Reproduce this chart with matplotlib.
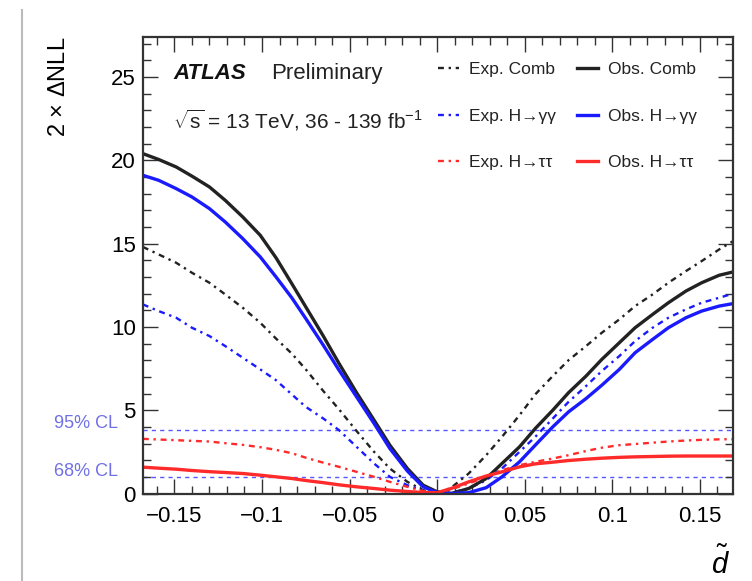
import matplotlib
matplotlib.use("Agg")
import matplotlib.pyplot as plt
from matplotlib.ticker import MultipleLocator
from matplotlib.lines import Line2D

plt.rcParams['font.family'] = ['Liberation Sans', 'DejaVu Sans']
plt.rcParams['mathtext.fontset'] = 'custom'
plt.rcParams['mathtext.rm'] = 'Liberation Sans'
plt.rcParams['mathtext.it'] = 'Liberation Sans:italic'

# ---- data ----
d_tilde = [-0.168, -0.159, -0.149, -0.140, -0.130, -0.121, -0.111, -0.101, -0.092,
           -0.083, -0.075, -0.065, -0.056, -0.046, -0.036, -0.027, -0.017, -0.008,
           0.0, 0.008, 0.018, 0.028, 0.037, 0.047, 0.056, 0.066, 0.075, 0.085,
           0.094, 0.104, 0.113, 0.123, 0.132, 0.142, 0.151, 0.161, 0.169]
obs_comb = [20.4, 20.05, 19.6, 19.05, 18.4, 17.6, 16.6, 15.5, 14.15,
            12.6, 11.2, 9.45, 7.8, 6.05, 4.4, 2.9, 1.5, 0.5,
            0.1, 0.0, 0.3, 0.9, 1.8, 2.8, 3.9, 5.0, 6.05, 7.05,
            8.05, 9.05, 9.95, 10.75, 11.45, 12.15, 12.65, 13.1, 13.3]
obs_gg = [19.1, 18.8, 18.3, 17.8, 17.1, 16.3, 15.3, 14.2, 13.0,
          11.75, 10.5, 8.9, 7.4, 5.8, 4.2, 2.7, 1.35, 0.4,
          0.05, 0.0, 0.05, 0.35, 1.0, 1.9, 2.9, 4.0, 4.9, 5.7,
          6.5, 7.45, 8.45, 9.25, 9.95, 10.55, 10.95, 11.25, 11.4]
exp_comb = [14.8, 14.35, 13.85, 13.25, 12.65, 11.95, 11.15, 10.25, 9.3,
            8.4, 7.45, 6.15, 5.05, 3.75, 2.5, 1.5, 0.7, 0.2,
            0.0, 0.35, 1.2, 2.3, 3.4, 4.7, 5.95, 7.05, 8.0, 8.85,
            9.65, 10.45, 11.25, 11.95, 12.65, 13.35, 13.95, 14.65, 15.15]
exp_gg = [11.35, 10.95, 10.55, 9.95, 9.45, 8.85, 8.15, 7.45, 6.8,
          5.95, 5.2, 4.5, 3.8, 2.8, 1.8, 1.0, 0.5, 0.15,
          0.0, 0.05, 0.3, 0.8, 1.5, 2.5, 3.4, 4.5, 5.5, 6.45,
          7.35, 8.25, 9.15, 9.95, 10.55, 11.05, 11.45, 11.75, 12.0]
exp_tt = [3.28, 3.24, 3.2, 3.16, 3.12, 3.02, 2.92, 2.78, 2.62,
          2.42, 2.15, 1.85, 1.6, 1.3, 1.0, 0.7, 0.4, 0.15,
          0.0, 0.25, 0.6, 1.0, 1.4, 1.7, 1.9, 2.1, 2.3, 2.55,
          2.75, 2.9, 2.97, 3.05, 3.12, 3.18, 3.22, 3.25, 3.26]
obs_tt = [1.58, 1.52, 1.46, 1.38, 1.31, 1.26, 1.2, 1.1, 1.0,
          0.9, 0.78, 0.65, 0.52, 0.4, 0.3, 0.2, 0.12, 0.06,
          0.05, 0.3, 0.7, 1.05, 1.3, 1.6, 1.78, 1.88, 1.98, 2.06,
          2.12, 2.17, 2.2, 2.22, 2.24, 2.25, 2.25, 2.25, 2.25]
cl_levels = [3.84, 1.0]
cl_labels = ["95% CL", "68% CL"]
x_ticks = [-0.15, -0.1, -0.05, 0, 0.05, 0.1, 0.15]
x_tick_labels = ['\u22120.15', '\u22120.1', '\u22120.05', '0', '0.05', '0.1', '0.15']

fig = plt.figure(figsize=(7.52, 5.81), dpi=100)
ax = fig.add_axes([0.190, 0.1506, 0.785, 0.7857])

dashdot = (0, (2.5, 2.0, 1.0, 2.0))
for yv in cl_levels:
    ax.axhline(yv, color='#3a3aff', lw=1.0, ls=(0, (3, 3)), alpha=0.85, zorder=1)

ax.plot(d_tilde, exp_comb, color='#222222', lw=1.7, ls=dashdot, label='Exp. Comb')
ax.plot(d_tilde, exp_gg, color='#1a1aff', lw=1.7, ls=dashdot, label='Exp. H\u2192\u03b3\u03b3')
ax.plot(d_tilde, exp_tt, color='#ff2a2a', lw=1.7, ls=dashdot, label='Exp. H\u2192\u03c4\u03c4')
ax.plot(d_tilde, obs_comb, color='#222222', lw=2.4, label='Obs. Comb')
ax.plot(d_tilde, obs_gg, color='#1a1aff', lw=2.4, label='Obs. H\u2192\u03b3\u03b3')
ax.plot(d_tilde, obs_tt, color='#ff2a2a', lw=2.4, label='Obs. H\u2192\u03c4\u03c4')

ax.set_xlim(-0.168, 0.169)
ax.set_ylim(0, 27.4)
ax.xaxis.set_minor_locator(MultipleLocator(0.01))
ax.yaxis.set_major_locator(MultipleLocator(5))
ax.yaxis.set_minor_locator(MultipleLocator(1))
ax.set_xticks(x_ticks)
ax.set_xticklabels(x_tick_labels)
ax.tick_params(which='both', direction='in', top=True, right=True, width=1.0, color='#333333')
ax.tick_params(which='major', length=11, labelsize=16)
ax.tick_params(axis='x', which='major', pad=9)
ax.tick_params(axis='y', which='major', pad=5)
ax.tick_params(which='minor', length=5.5)
for s in ax.spines.values():
    s.set_linewidth(1.6)
    s.set_color('#333333')

ax.set_ylabel(r'2 $\times$ $\Delta$NLL', fontsize=17)
ax.yaxis.set_label_coords(-0.124, 1.0)
ax.yaxis.label.set_horizontalalignment('right')
ax.set_xlabel(r'$\tilde{d}$', fontsize=21)
ax.xaxis.set_label_coords(0.995, -0.115)
ax.xaxis.label.set_horizontalalignment('right')
ax.xaxis.label.set_verticalalignment('top')

ax.text(0.051, 0.921, 'ATLAS', transform=ax.transAxes, fontsize=16,
        fontweight='bold', fontstyle='italic', va='center', color='#111111')
ax.text(0.217, 0.921, 'Preliminary', transform=ax.transAxes, fontsize=16, va='center',
        color='#222222')
ax.text(0.051, 0.818, r'$\sqrt{\mathrm{s}}$ = 13 TeV, 36 - 139 fb$^{-1}$', transform=ax.transAxes,
        fontsize=15, va='center', color='#222222')

for yv, lab in zip(cl_levels, cl_labels):
    ax.annotate(lab, xy=(0, yv), xycoords=('axes fraction', 'data'),
                xytext=(-18, 4), textcoords='offset points', ha='right', va='center',
                color='#7070e6', fontsize=13)

leg = ax.legend(ncol=2, loc='upper left', bbox_to_anchor=(0.50, 0.945), frameon=False,
                fontsize=12.5, handlelength=1.2, labelspacing=1.8, columnspacing=1.2,
                handletextpad=0.6, borderpad=0, borderaxespad=0)
for t in leg.get_texts():
    t.set_color('#222222')

fig.add_artist(Line2D([22 / 752, 22 / 752], [0, 1 - 10 / 581], color='#bbbbbb', lw=1.5))

fig.savefig('out.png', dpi=100)
